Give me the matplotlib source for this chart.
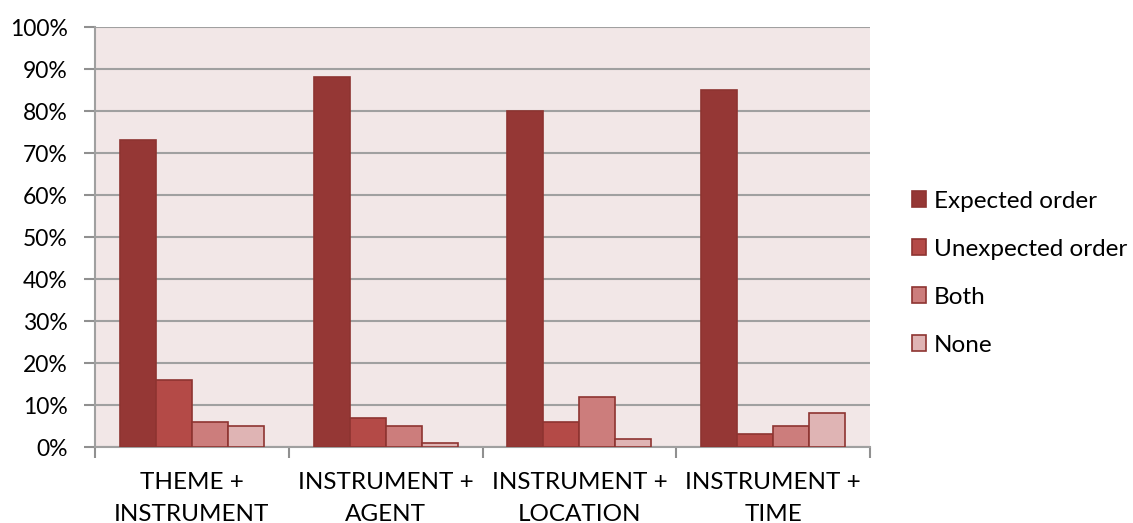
import matplotlib
matplotlib.use("Agg")
import matplotlib.pyplot as plt
import numpy as np
from matplotlib.ticker import FixedLocator, PercentFormatter

categories = ["THEME +\nINSTRUMENT", "INSTRUMENT +\nAGENT", "INSTRUMENT +\nLOCATION", "INSTRUMENT +\nTIME"]
series_names = ["Expected order", "Unexpected order", "Both", "None"]
expected = [73, 88, 80, 85]
unexpected = [16, 7, 6, 3]
both = [6, 5, 12, 5]
none = [5, 1, 2, 8]
series = [expected, unexpected, both, none]
colors = ["#953735", "#B44A47", "#CC7D7C", "#DFB4B4"]
edge = "#8E3431"

plt.rcParams['font.family'] = ['Lato', 'DejaVu Sans']

fig = plt.figure(figsize=(11.33, 5.23), dpi=100)
ax = fig.add_axes([95/1133, 76/523, 775/1133, 420/523])
ax.set_facecolor("#F2E7E7")

x = np.arange(len(categories))
w = 0.186
offsets = (np.arange(4) - 1.5) * w
for i, (vals, c, name) in enumerate(zip(series, colors, series_names)):
    ax.bar(x + offsets[i], vals, width=w, color=c, edgecolor=edge, linewidth=1.2, label=name, zorder=3)

ax.set_xlim(-0.5, len(categories) - 0.5)
ax.set_ylim(0, 100)
ax.set_yticks(np.arange(0, 101, 10))
ax.yaxis.set_major_formatter(PercentFormatter(decimals=0))
ax.yaxis.grid(True, color="#A0A0A0", linewidth=1.5, zorder=0)
ax.set_axisbelow(True)

ax.set_xticks(x)
ax.set_xticklabels(categories, fontsize=17.5, linespacing=1.65)
ax.xaxis.set_minor_locator(FixedLocator(np.arange(-0.5, len(categories), 1.0)))
ax.tick_params(axis='x', which='major', length=0, pad=18)
ax.tick_params(axis='x', which='minor', length=8, color="#909090", width=1.5)
ax.tick_params(axis='y', length=8, color="#909090", width=1.5, labelsize=16.5, pad=11.5)

for s in ["top", "right"]:
    ax.spines[s].set_visible(False)
for s in ["left", "bottom"]:
    ax.spines[s].set_color("#A0A0A0")
    ax.spines[s].set_linewidth(1.5)

leg = fig.legend(loc="upper left", bbox_to_anchor=(902/1133, 1 - 181/523), frameon=False,
                 fontsize=17.5, handlelength=0.6, handleheight=0.6, handletextpad=0.3,
                 labelspacing=1.11, borderaxespad=0)

fig.savefig("out.png", dpi=100)
